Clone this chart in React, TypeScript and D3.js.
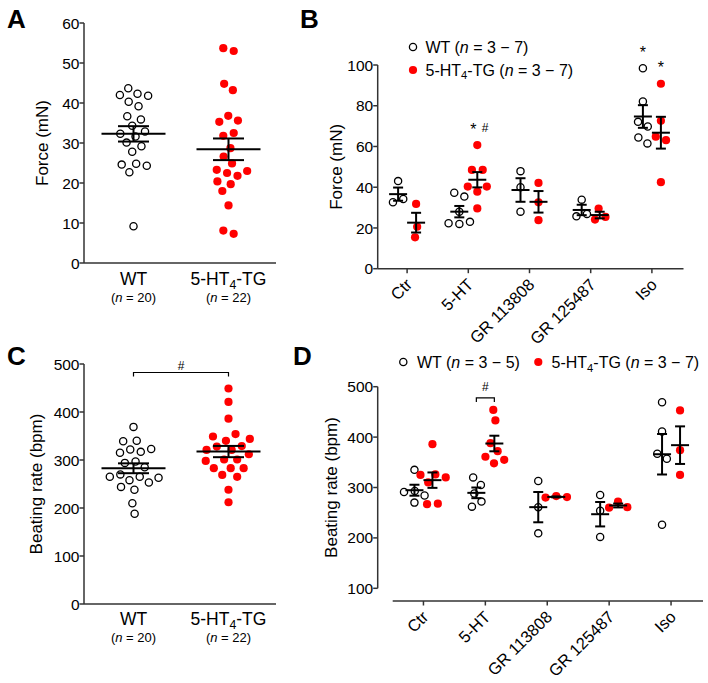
import { useMemo } from 'react'
import * as d3 from 'd3'

const RED = '#ff0000'
const AXIS = '#333'
const FONT = '"Liberation Sans", Arial, Helvetica, sans-serif'

// panels A and C: genotype comparison
const genotypes = ['WT', '5-HT4-TG']
const genotypeN = [20, 22]
const forceWT = [43.7, 42.3, 42.0, 41.8, 40.3, 39.2, 36.7, 35.9, 34.3, 32.9, 32.3, 31.6, 30.1, 29.2, 27.8, 24.8, 24.6, 24.3, 22.7, 9.2]
const forceTG = [53.7, 53.0, 44.8, 43.2, 36.8, 35.6, 35.3, 32.5, 31.8, 28.7, 26.6, 24.9, 23.3, 23.0, 22.5, 21.8, 20.4, 19.7, 18.0, 14.4, 8.1, 7.3]
const rateWT = [369, 340, 339, 323, 322, 317, 315, 297, 294, 285, 270, 265, 265, 263, 258, 253, 244, 238, 210, 188]
const rateTG = [449, 421, 386, 354, 349, 344, 340, 329, 328, 321, 321, 312, 301, 301, 298, 283, 283, 283, 269, 265, 238, 212]

// panels B and D: per treatment
const treatments = ['Ctr', '5-HT', 'GR 113808', 'GR 125487', 'Iso']
const forceTreatWT = [
  [43, 34.2, 32.6],
  [37.3, 35.4, 28, 23, 22.3, 22],
  [47.9, 40, 28],
  [33.9, 26.9, 25.7],
  [98.4, 82.1, 72.1, 69.8, 64.4, 61.5],
]
const forceTreatTG = [
  [31.8, 20.6, 15.4],
  [60.7, 48.5, 48.5, 40.3, 40.3, 37.8, 29.6],
  [42.1, 32.6, 23.8],
  [29.5, 25.4, 24.1],
  [90.8, 72.6, 64.8, 63.1, 42.5],
]
const rateTreatWT = [
  [335, 293, 291, 284, 270],
  [320, 305, 288, 272, 262],
  [313, 261, 209],
  [285, 254, 202],
  [469, 411, 367, 357, 226],
]
const rateTreatTG = [
  [386, 326, 325, 320, 310, 268, 267],
  [454, 433, 388, 372, 361, 355, 348],
  [283, 281, 280],
  [272, 261, 260],
  [453, 374, 325],
]

const forceTicksA = [0, 10, 20, 30, 40, 50, 60]
const forceTicksB = [0, 20, 40, 60, 80, 100]
const rateTicksC = [0, 100, 200, 300, 400, 500]
const rateTicksD = [100, 200, 300, 400, 500]

const yA = d3.scaleLinear().domain([0, 60]).range([263, 23])
const yC = d3.scaleLinear().domain([0, 500]).range([604, 364])
const yB = d3.scaleLinear().domain([0, 100]).range([268.7, 65])
const yD = d3.scaleLinear().domain([100, 500]).range([588.3, 386.7])
const xAC = d3.scaleBand<string>().domain(genotypes).range([86, 276])
const xB = d3.scaleBand<string>().domain(treatments).range([376.5, 682.5])
const xD = d3.scaleBand<string>().domain(treatments).range([392.5, 702])

function swarm(ys: number[], radius: number): number[] {
  const nodes: any[] = ys.map((y, i) => ({ x: (i % 2 ? 1 : -1) * (i * 0.3), y, fy: y }))
  const sim = d3
    .forceSimulation(nodes)
    .force('x', d3.forceX(0).strength(0.08))
    .force('collide', d3.forceCollide(radius).iterations(4))
    .stop()
  for (let i = 0; i < 300; i++) sim.tick()
  return nodes.map((n) => n.x)
}

type GroupProps = {
  cx: number
  values: number[]
  y: d3.ScaleLinear<number, number>
  filled: boolean
  meanHalf: number
  capHalf: number
}

function Group({ cx, values, y, filled, meanHalf, capHalf }: GroupProps) {
  const offs = useMemo(() => swarm(values.map((v) => y(v)), 5.4), [values, y])
  const m = d3.mean(values) || 0
  const se = (d3.deviation(values) || 0) / Math.sqrt(values.length)
  return (
    <g>
      {values.map((v, i) =>
        filled ? (
          <circle key={i} cx={cx + offs[i]} cy={y(v)} r={4.1} fill={RED} />
        ) : (
          <circle key={i} cx={cx + offs[i]} cy={y(v)} r={3.6} fill="none" stroke="#000" strokeWidth={1.3} />
        )
      )}
      <g stroke="#000" strokeWidth={2}>
        <line x1={cx - meanHalf} x2={cx + meanHalf} y1={y(m)} y2={y(m)} />
        <line x1={cx} x2={cx} y1={y(m + se)} y2={y(m - se)} />
        <line x1={cx - capHalf} x2={cx + capHalf} y1={y(m + se)} y2={y(m + se)} />
        <line x1={cx - capHalf} x2={cx + capHalf} y1={y(m - se)} y2={y(m - se)} />
      </g>
    </g>
  )
}

function TGLabel() {
  return (
    <>
      5-HT<tspan dy={3.5} fontSize="0.7em">4</tspan>
      <tspan dy={-3.5}>-TG</tspan>
    </>
  )
}

function YAxis({ x, y, ticks, title, titleX }: { x: number; y: d3.ScaleLinear<number, number>; ticks: number[]; title: string; titleX: number }) {
  const [r0, r1] = y.range()
  const mid = (r0 + r1) / 2
  return (
    <g>
      <line x1={x} x2={x} y1={r1} y2={r0} stroke={AXIS} strokeWidth={1.5} />
      {ticks.map((t) => (
        <g key={t}>
          <line x1={x - 4.5} x2={x} y1={y(t)} y2={y(t)} stroke={AXIS} strokeWidth={1.5} />
          <text x={x - 4.5} y={y(t)} dy="0.36em" textAnchor="end" fontSize={15.5}>
            {t}
          </text>
        </g>
      ))}
      <text transform={`translate(${titleX},${mid}) rotate(-90)`} textAnchor="middle" fontSize={17}>
        {title}
      </text>
    </g>
  )
}

function GenotypePanel({ y, ticks, title, wt, tg, axisY, labelY, nY, bracket }: any) {
  const cWT = (xAC('WT') || 0) + xAC.bandwidth() / 2
  const cTG = (xAC('5-HT4-TG') || 0) + xAC.bandwidth() / 2
  const by = bracket ? y(d3.max(tg) as number) - 16 : 0
  return (
    <g>
      <YAxis x={84} y={y} ticks={ticks} title={title} titleX={title.startsWith('Force') ? 47.5 : 42} />
      <line x1={84} x2={276} y1={axisY} y2={axisY} stroke={AXIS} strokeWidth={1.5} />
      <Group cx={cWT} values={wt} y={y} filled={false} meanHalf={32} capHalf={15.5} />
      <Group cx={cTG} values={tg} y={y} filled meanHalf={32} capHalf={15.5} />
      {[cWT, cTG].map((c, i) => (
        <g key={i}>
          <text x={c} y={labelY} textAnchor="middle" fontSize={17.5}>
            {i === 0 ? 'WT' : <TGLabel />}
          </text>
          <text x={c} y={nY} textAnchor="middle" fontSize={13}>
            (<tspan fontStyle="italic">n</tspan> = {genotypeN[i]})
          </text>
        </g>
      ))}
      {bracket && (
        <g>
          <path d={`M${cWT},${by + 4}V${by}H${cTG}V${by + 4}`} fill="none" stroke="#000" strokeWidth={1.2} />
          <text x={(cWT + cTG) / 2} y={by - 2} textAnchor="middle" fontSize={12}>
            #
          </text>
        </g>
      )}
    </g>
  )
}

function TreatmentPanel({ x, y, ticks, title, titleX, yAxisX, xAxisY, xAxisStart, wt, tg, children }: any) {
  const center = (t: string) => (x(t) || 0) + x.bandwidth() / 2
  return (
    <g>
      <YAxis x={yAxisX} y={y} ticks={ticks} title={title} titleX={titleX} />
      <line x1={xAxisStart} x2={x.range()[1] + 1} y1={xAxisY} y2={xAxisY} stroke={AXIS} strokeWidth={1.5} />
      {treatments.map((t, i) => (
        <g key={t}>
          <line x1={center(t)} x2={center(t)} y1={xAxisY} y2={xAxisY + 4.5} stroke={AXIS} strokeWidth={1.5} />
          <text transform={`translate(${center(t) + 6},${xAxisY + 17}) rotate(-45)`} textAnchor="end" fontSize={16.5}>
            {t}
          </text>
          <Group cx={center(t) - 9} values={wt[i]} y={y} filled={false} meanHalf={9} capHalf={5} />
          <Group cx={center(t) + 9} values={tg[i]} y={y} filled meanHalf={9} capHalf={5} />
        </g>
      ))}
      {children}
    </g>
  )
}

export default function App() {
  const cB = (t: string) => (xB(t) || 0) + xB.bandwidth() / 2
  const cD = (t: string) => (xD(t) || 0) + xD.bandwidth() / 2
  const i5 = treatments.indexOf('5-HT')
  const iIso = treatments.indexOf('Iso')
  const dBr = yD(d3.max(rateTreatTG[i5]) as number) - 12
  return (
    <svg
      width={708}
      height={683}
      viewBox="0 0 708 683"
      style={{ position: 'absolute', left: 0, top: 0, background: '#fff' }}
      fontFamily={FONT}
    >
      <rect width={708} height={683} fill="#fff" />
      <g fontWeight="bold" fontSize={26}>
        <text x={7} y={28}>A</text>
        <text x={300} y={28}>B</text>
        <text x={7} y={365}>C</text>
        <text x={293} y={365}>D</text>
      </g>

      <GenotypePanel y={yA} ticks={forceTicksA} title="Force (mN)" wt={forceWT} tg={forceTG} axisY={263} labelY={285} nY={302} />
      <GenotypePanel y={yC} ticks={rateTicksC} title="Beating rate (bpm)" wt={rateWT} tg={rateTG} axisY={604} labelY={625} nY={642} bracket />

      <TreatmentPanel
        x={xB}
        y={yB}
        ticks={forceTicksB}
        title="Force (mN)"
        titleX={342}
        yAxisX={377.7}
        xAxisY={268.7}
        xAxisStart={377.7}
        wt={forceTreatWT}
        tg={forceTreatTG}
      >
        <text x={cB('5-HT') + 9 - 4} y={yB(d3.max(forceTreatTG[i5]) as number) - 10.5} textAnchor="middle" fontSize={16}>*</text>
        <text x={cB('5-HT') + 9 + 7.7} y={yB(d3.max(forceTreatTG[i5]) as number) - 13.5} textAnchor="middle" fontSize={12}>#</text>
        <text x={cB('Iso') - 9} y={yB(d3.max(forceTreatWT[iIso]) as number) - 10.5} textAnchor="middle" fontSize={16}>*</text>
        <text x={cB('Iso') + 9} y={yB(d3.max(forceTreatTG[iIso]) as number) - 10.5} textAnchor="middle" fontSize={16}>*</text>
        <g fontSize={16}>
          <circle cx={413} cy={47} r={3.6} fill="none" stroke="#000" strokeWidth={1.3} />
          <text x={425.5} y={52.5}>
            WT (<tspan fontStyle="italic">n</tspan> = 3 − 7)
          </text>
          <circle cx={413} cy={70} r={4.1} fill={RED} />
          <text x={425.5} y={75.5}>
            <TGLabel /> (<tspan fontStyle="italic">n</tspan> = 3 − 7)
          </text>
        </g>
      </TreatmentPanel>

      <TreatmentPanel
        x={xD}
        y={yD}
        ticks={rateTicksD}
        title="Beating rate (bpm)"
        titleX={337}
        yAxisX={377.7}
        xAxisY={601}
        xAxisStart={392.7}
        wt={rateTreatWT}
        tg={rateTreatTG}
      >
        <path
          d={`M${cD('5-HT') - 9},${dBr + 4}V${dBr}H${cD('5-HT') + 9}V${dBr + 4}`}
          fill="none"
          stroke="#000"
          strokeWidth={1.2}
        />
        <text x={cD('5-HT')} y={dBr - 7} textAnchor="middle" fontSize={12}>#</text>
        <g fontSize={16}>
          <circle cx={403.3} cy={362} r={3.6} fill="none" stroke="#000" strokeWidth={1.3} />
          <text x={417} y={368}>
            WT (<tspan fontStyle="italic">n</tspan> = 3 − 5)
          </text>
          <circle cx={538.3} cy={362} r={4.1} fill={RED} />
          <text x={551.5} y={368}>
            <TGLabel /> (<tspan fontStyle="italic">n</tspan> = 3 − 7)
          </text>
        </g>
      </TreatmentPanel>
    </svg>
  )
}
